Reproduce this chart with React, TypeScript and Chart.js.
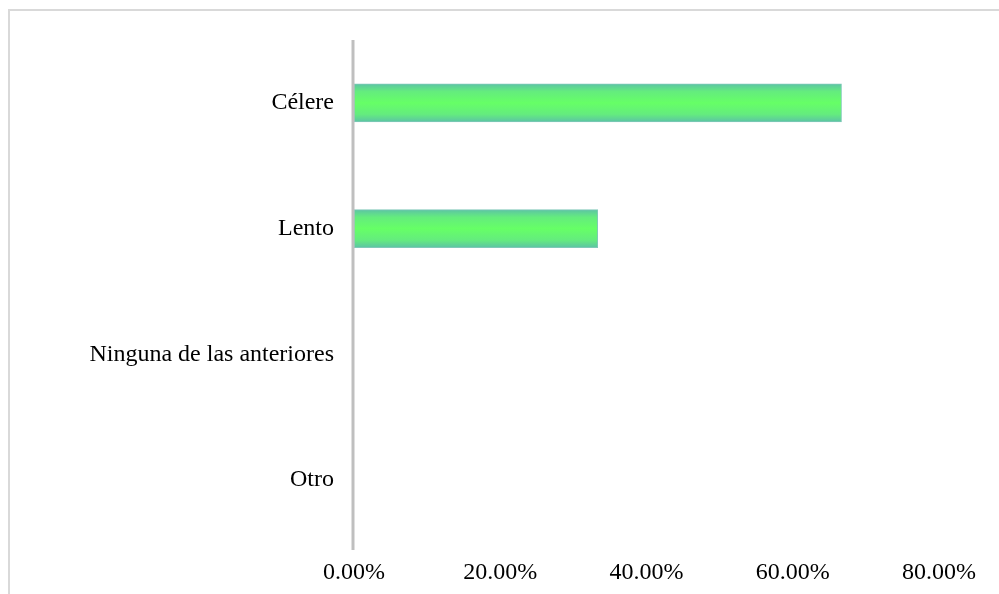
import React, { useEffect, useRef } from "react";
import { Chart, registerables } from "chart.js";

Chart.register(...registerables);

const categories = ["Célere", "Lento", "Ninguna de las anteriores", "Otro"];
const values = [66.67, 33.33, 0, 0];
const xTicks = [0, 20, 40, 60, 80];

const axisLinePlugin = {
  id: "axisLine",
  afterDatasetsDraw(chart: any) {
    const { ctx, chartArea } = chart;
    ctx.save();
    ctx.strokeStyle = "#bfbfbf";
    ctx.lineWidth = 3;
    ctx.beginPath();
    ctx.moveTo(chartArea.left - 1, chartArea.top);
    ctx.lineTo(chartArea.left - 1, chartArea.bottom + 7);
    ctx.stroke();
    ctx.restore();
  },
};

export default function App() {
  const ref = useRef<HTMLCanvasElement | null>(null);

  useEffect(() => {
    document.documentElement.style.overflow = "hidden";
    document.body.style.overflow = "hidden";
    const canvas = ref.current;
    if (!canvas) return;
    const font = { family: "'Liberation Serif', 'Times New Roman', serif", size: 24 };
    const chart = new Chart(canvas, {
      type: "bar",
      data: {
        labels: categories,
        datasets: [
          {
            data: values,
            backgroundColor: (ctx: any) => {
              const ch = ctx.chart;
              const ys = ch.scales && ch.scales.y;
              if (!ys || !ch.chartArea || ctx.dataIndex === undefined) return "#66ff66";
              const yc = ys.getPixelForValue(ctx.dataIndex);
              const h = 19;
              const g = ch.ctx.createLinearGradient(0, yc - h, 0, yc + h);
              g.addColorStop(0, "#5cc4a4");
              g.addColorStop(0.2, "#64ec7e");
              g.addColorStop(0.5, "#66ff66");
              g.addColorStop(0.8, "#64ec7e");
              g.addColorStop(1, "#5cc4a4");
              return g;
            },
            borderColor: "#80c8b8",
            borderWidth: 1,
            borderSkipped: false,
            barThickness: 38,
          },
        ],
      },
      options: {
        indexAxis: "y",
        animation: false,
        responsive: false,
        maintainAspectRatio: false,
        layout: { padding: { top: 29, right: 47, left: 0, bottom: 0 } },
        plugins: { legend: { display: false }, tooltip: { enabled: false } },
        scales: {
          x: {
            min: 0,
            max: 80,
            afterBuildTicks: (s: any) => {
              s.ticks = xTicks.map((v) => ({ value: v }));
            },
            ticks: {
              color: "#000",
              font,
              padding: 15,
              maxRotation: 0,
              callback: (v: any) => Number(v).toFixed(2) + "%",
            },
            grid: { display: false, drawTicks: false },
            border: { display: false },
            afterFit: (s: any) => {
              s.height = 51;
            },
          },
          y: {
            ticks: { color: "#000", font, padding: 20 },
            grid: { display: false, drawTicks: false },
            border: { display: false },
            afterFit: (s: any) => {
              s.width = 344;
              s.paddingTop = 0;
              s.paddingBottom = 0;
            },
          },
        },
      },
      plugins: [axisLinePlugin],
    } as any);
    return () => chart.destroy();
  }, []);

  return (
    <div>
      <div
        style={{
          position: "fixed",
          left: 8,
          top: 9,
          width: 1200,
          height: 1200,
          borderLeft: "2px solid #d9d9d9",
          borderTop: "2px solid #d9d9d9",
          boxSizing: "border-box",
        }}
      />
      <canvas
        ref={ref}
        width={981}
        height={583}
        style={{ display: "block", position: "fixed", left: 10, top: 11 }}
      />
    </div>
  );
}
